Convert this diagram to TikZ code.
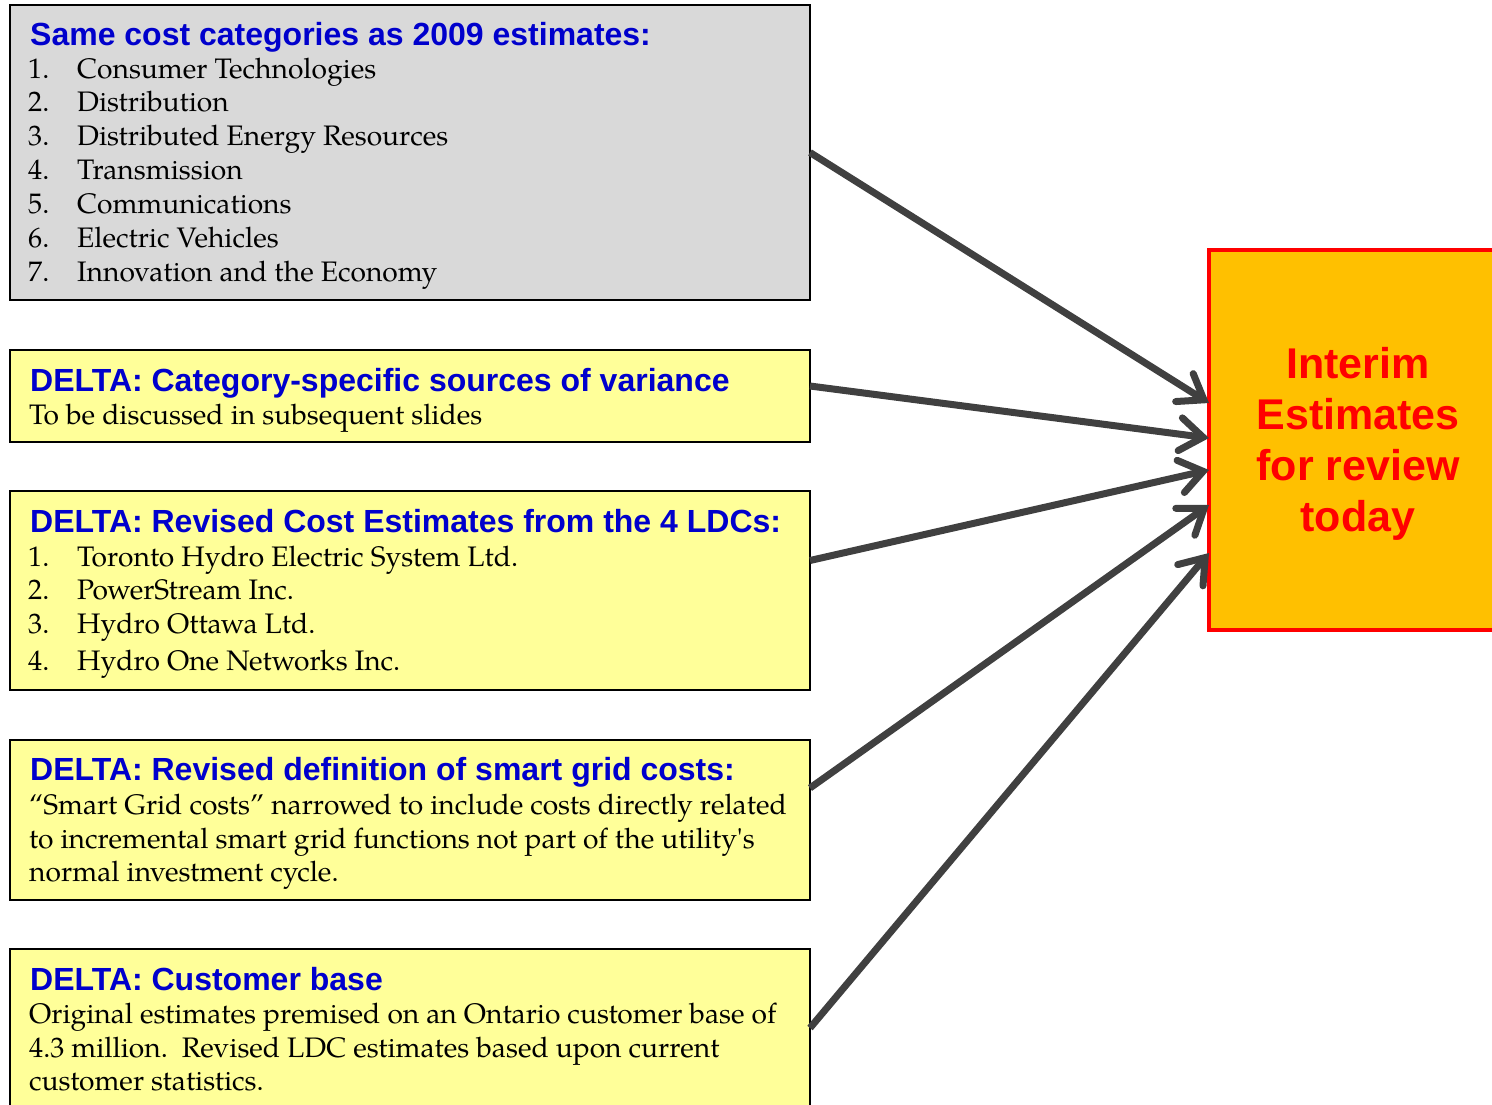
\documentclass[tikz,border=0pt]{standalone}
\usepackage{fontspec}
\setmainfont{TeX Gyre Pagella}
\newfontfamily\arialfont{Liberation Sans}
\usetikzlibrary{arrows.meta}
\definecolor{headblue}{RGB}{0,0,204}
\definecolor{boxgray}{RGB}{217,217,217}
\definecolor{boxyellow}{RGB}{255,255,153}
\definecolor{boxorange}{RGB}{255,192,0}
\definecolor{arrowgray}{RGB}{64,64,64}
\tikzset{
  x=1pt, y=-1pt,
  box/.style={draw=black, line width=2.5pt, anchor=north west, minimum width=800pt, inner sep=0pt, outer sep=0pt},
  head/.style={anchor=base west, inner sep=0pt, text=headblue, font=\arialfont\bfseries\fontsize{32}{36}\selectfont},
  body/.style={anchor=base west, inner sep=0pt, font=\fontsize{28.2}{33}\selectfont},
  link/.style={draw=arrowgray, line width=7pt, -{Straight Barb[length=23pt 0 0, width=33pt 0 0, line cap=round]}},
}
\begin{document}
\begin{tikzpicture}
\useasboundingbox (0,0) rectangle (1492,1105);
% boxes
\node[box, fill=boxgray, minimum height=295pt] (b1) at (10,5) {};
\node[box, fill=boxyellow, minimum height=92pt] (b2) at (10,350) {};
\node[box, fill=boxyellow, minimum height=199pt] (b3) at (10,491) {};
\node[box, fill=boxyellow, minimum height=160pt] (b4) at (10,740) {};
\node[box, fill=boxyellow, minimum height=170pt] (b5) at (10,949) {};
\node[draw=red, line width=4.5pt, fill=boxorange, anchor=north west, minimum width=300pt, minimum height=380pt, inner sep=0pt, outer sep=0pt] (r) at (1209,250) {};
% box 1
\node[head] (h1) at (30,46) {Same cost categories as 2009 estimates:};
\node[body] (n11) at (28,79) {1.};  \node[body] (t11) at (77,79) {Consumer Technologies};
\node[body] (n12) at (28,112) {2.}; \node[body] (t12) at (77,112) {Distribution};
\node[body] (n13) at (28,146) {3.}; \node[body] (t13) at (77,146) {Distributed Energy Resources};
\node[body] (n14) at (28,180) {4.}; \node[body] (t14) at (77,180) {Transmission};
\node[body] (n15) at (28,213) {5.}; \node[body] (t15) at (77,213) {Communications};
\node[body] (n16) at (28,247) {6.}; \node[body] (t16) at (77,247) {Electric Vehicles};
\node[body] (n17) at (28,281) {7.}; \node[body] (t17) at (77,281) {Innovation and the Economy};
% box 2
\node[head] (h2) at (30,391) {DELTA: Category-specific sources of variance};
\node[body] (t21) at (29,424) {To be discussed in subsequent slides};
% box 3
\node[head] (h3) at (30,532) {DELTA: Revised Cost Estimates from the 4 LDCs:};
\node[body] (n31) at (28,566) {1.}; \node[body] (t31) at (77,566) {Toronto Hydro Electric System Ltd.};
\node[body] (n32) at (28,599) {2.}; \node[body] (t32) at (77,599) {PowerStream Inc.};
\node[body] (n33) at (28,633) {3.}; \node[body] (t33) at (77,633) {Hydro Ottawa Ltd.};
\node[body] (n34) at (28,670) {4.}; \node[body] (t34) at (77,670) {Hydro One Networks Inc.};
% box 4
\node[head] (h4) at (30,780) {DELTA: Revised definition of smart grid costs:};
\node[body] (t41) at (29,814) {“Smart Grid costs” narrowed to include costs directly related};
\node[body] (t42) at (29,848) {to incremental smart grid functions not part of the utility\textquotesingle s};
\node[body] (t43) at (29,881) {normal investment cycle.};
% box 5
\node[head] (h5) at (30,990) {DELTA: Customer base};
\node[body] (t51) at (29,1023) {Original estimates premised on an Ontario customer base of};
\node[body] (t52) at (29,1057) {4.3 million.\ \ Revised LDC estimates based upon current};
\node[body] (t53) at (29,1090) {customer statistics.};
% right text
\node[anchor=north, inner sep=0pt, align=center, text=red, font=\arialfont\bfseries\fontsize{43}{51}\selectfont] (rt) at (1358,347) {Interim\\Estimates\\for review\\today};
% arrows
\draw[link] (b1.east) -- ([yshift=37pt]r.west);
\draw[link] ([yshift=10pt]b2.east) -- ([yshift=2pt]r.west);
\draw[link] ([yshift=30pt]b3.east) -- ([yshift=-30pt]r.west);
\draw[link] ([yshift=32pt]b4.east) -- ([yshift=-65pt]r.west);
\draw[link] ([yshift=6pt]b5.east) -- ([yshift=-113pt]r.west);
\end{tikzpicture}
\end{document}
